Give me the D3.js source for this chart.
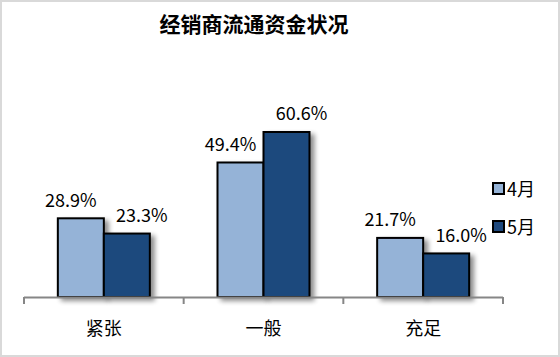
<!DOCTYPE html>
<html><head><meta charset="utf-8">
<script src="https://cdn.jsdelivr.net/npm/d3@7"></script>
<style>
html,body{margin:0;padding:0;background:#fff;}
svg{display:block;}
text{font-family:"Noto Sans CJK SC","Microsoft YaHei",sans-serif;}
</style></head>
<body><svg id="c" width="560" height="357"></svg>
<script>
const title = "经销商流通资金状况";
const categories = ["紧张", "一般", "充足"];
const seriesNames = ["4月", "5月"];
const april = [28.9, 49.4, 21.7];
const may = [23.3, 60.6, 16.0];
const colors = ["#95b3d7", "#1f497d"];

const svg = d3.select("#c");
const W = 560, H = 357;
svg.append("rect").attr("x",1).attr("y",1).attr("width",W-2).attr("height",H-2)
  .attr("fill","#fff").attr("stroke","#d9d9d9").attr("stroke-width",2);

const defs = svg.append("defs");
const f = defs.append("filter").attr("id","sh").attr("x","-20%").attr("y","-20%").attr("width","160%").attr("height","160%");
f.append("feGaussianBlur").attr("in","SourceAlpha").attr("stdDeviation",2.5).attr("result","b");
f.append("feOffset").attr("in","b").attr("dx",4).attr("dy",3).attr("result","o");
f.append("feComponentTransfer").attr("in","o").attr("result","o2")
  .append("feFuncA").attr("type","linear").attr("slope",0.45);
const m = f.append("feMerge");
m.append("feMergeNode").attr("in","o2");
m.append("feMergeNode").attr("in","SourceGraphic");

svg.append("text").attr("x",254).attr("y",32).attr("text-anchor","middle")
  .attr("font-size",21).attr("font-weight","bold").attr("fill","#000").text(title);

const x0 = d3.scaleBand().domain(categories).range([24,503]).paddingInner(0).paddingOuter(0);
const x1 = d3.scaleBand().domain(seriesNames).range([0,92]);
const y = d3.scaleLinear().domain([0,70]).range([297,106.4]);

const data = categories.map((c,i)=>({cat:c, vals:[april[i], may[i]]}));
const labelDx = [-10, 15];

const g = svg.append("g");
data.forEach(d=>{
  const cx = x0(d.cat) + x0.bandwidth()/2 - 46;
  d.vals.forEach((v,j)=>{
    g.append("rect").attr("x", cx + x1(seriesNames[j])).attr("y", y(v))
      .attr("width", x1.bandwidth()).attr("height", y(0)-y(v))
      .attr("fill", colors[j]).attr("stroke","#000").attr("stroke-width",2)
      .attr("filter","url(#sh)");
  });
});
data.forEach(d=>{
  const cx = x0(d.cat) + x0.bandwidth()/2 - 46;
  d.vals.forEach((v,j)=>{
    g.append("text").attr("x", cx + x1(seriesNames[j]) + x1.bandwidth()/2 + labelDx[j])
      .attr("y", y(v) - 11.5).attr("text-anchor","middle").attr("font-size",18).attr("fill","#000")
      .text(v.toFixed(1) + "%");
  });
});

// axis
const ax = svg.append("g");
ax.append("line").attr("x1",24).attr("x2",503).attr("y1",297.5).attr("y2",297.5)
  .attr("stroke","#868686").attr("stroke-width",2);
const ticks = categories.map(c=>x0(c)).concat([x0.range()[1]]);
ticks.forEach(t=>{
  ax.append("line").attr("x1",t).attr("x2",t).attr("y1",297).attr("y2",304)
    .attr("stroke","#868686").attr("stroke-width",2);
});
categories.forEach(c=>{
  ax.append("text").attr("x", x0(c)+x0.bandwidth()/2).attr("y",335).attr("text-anchor","middle")
    .attr("font-size",18).attr("fill","#000").text(c);
});

// legend
seriesNames.forEach((s,j)=>{
  const ly = 183 + j*38;
  svg.append("rect").attr("x",493).attr("y",ly).attr("width",11).attr("height",11)
    .attr("fill",colors[j]).attr("stroke","#000").attr("stroke-width",2);
  svg.append("text").attr("x",507).attr("y",ly+12.5).attr("font-size",18).attr("fill","#000").text(s);
});
</script></body></html>
